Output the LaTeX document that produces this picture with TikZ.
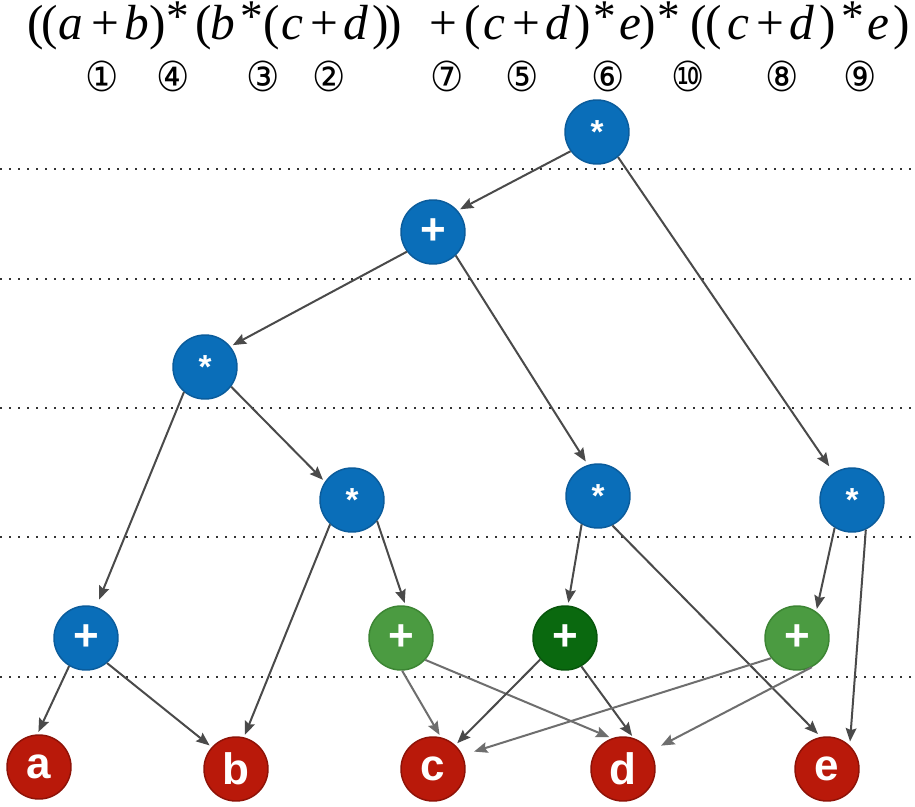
\documentclass[tikz,border=0pt]{standalone}
\usepackage{fontspec}
\setmainfont{Liberation Sans}
\newfontfamily\tms{Liberation Serif}
\newfontfamily\djv{DejaVu Sans}
\usetikzlibrary{arrows.meta}
\definecolor{nblue}{HTML}{0A6EB9}
\definecolor{nblueb}{HTML}{0A5C9C}
\definecolor{ngreen}{HTML}{4B9B41}
\definecolor{ngreenb}{HTML}{3C8533}
\definecolor{dgreen}{HTML}{0A690F}
\definecolor{dgreenb}{HTML}{07550B}
\definecolor{nred}{HTML}{B9190A}
\definecolor{nredb}{HTML}{8E1207}
\definecolor{edgec}{HTML}{4A4A4A}
\definecolor{edgel}{HTML}{6E6E6E}
\begin{document}
\begin{tikzpicture}[x=0.75pt,y=-0.75pt,
  tnode/.style={circle,minimum size=48pt,inner sep=0pt,line width=1.1pt,
    font=\fontsize{33}{33}\selectfont\bfseries,text=white},
  blue/.style={tnode,fill=nblue,draw=nblueb},
  lgreen/.style={tnode,fill=ngreen,draw=ngreenb},
  dkgreen/.style={tnode,fill=dgreen,draw=dgreenb},
  red/.style={tnode,fill=nred,draw=nredb},
  conn/.style={draw=edgec,line width=1.5pt,shorten >=2pt,
    -{Stealth[length=10pt,width=8pt,inset=1.5pt]}},
  connl/.style={conn,draw=edgel},
  dotline/.style={draw=black!80,line width=1.5pt,dash pattern=on 1.5pt off 5.25pt},
  ftok/.style={anchor=base,inner sep=0pt,font=\tms\fontsize{37}{37}\selectfont},
  fitok/.style={ftok,font=\tms\itshape\fontsize{37}{37}\selectfont},
  fast/.style={anchor=base,inner sep=0pt,font=\tms\fontsize{34}{34}\selectfont},
  circnum/.style={inner sep=0pt,font=\djv\fontsize{31}{31}\selectfont}
]
\useasboundingbox (0,0) rectangle (915,807);
\fill[white] (0,0) rectangle (915,807);

% dotted level lines
\foreach \yy in {169,279,408,537,677}
  \draw[dotline] (0,\yy) -- (915,\yy);

% formula
\foreach \xx/\tt [count=\i] in {36/(,50/(,204/(,272/(,473/(,699/(,714/(,
    158/),381/),394/),583/),648/),828/),902/)}
  \node[ftok] (fp\i) at (\xx,39) {\tt};
\foreach \xx [count=\i] in {105,324,443,526,770}
  \node[ftok] (fplus\i) at (\xx,39) {+};
\foreach \xx [count=\i] in {178,252,605,669,853}
  \node[fast] (fast\i) at (\xx,39) {\smash{\raisebox{5.5pt}{*}}};
\foreach \xx/\tt [count=\i] in {71/a,137/b,223/b,292/c,356/d,494/c,558/d,630/e,738/c,802/d,878/e}
  \node[fitok] (fv\i) at (\xx,39) {\tt};

% circled numbers
\foreach \xx/\tt [count=\i] in {102/①,173/④,263/③,329/②,447/⑦,522/⑤,608/⑥,688/⑩,782/⑧,860/⑨}
  \node[circnum] (cn\i) at (\xx,76) {\scalebox{0.9}[1]{\tt}};

% tree nodes
\node[blue] (root) at (597,132) {\fontsize{25}{25}\selectfont *};
\node[blue] (p1) at (433,232) {\raisebox{-3pt}{+}};
\node[blue] (m1) at (205,367) {\fontsize{25}{25}\selectfont *};
\node[blue] (m2) at (352,500) {\fontsize{25}{25}\selectfont *};
\node[blue] (ms) at (598,496) {\fontsize{25}{25}\selectfont *};
\node[blue] (rs) at (852,500) {\fontsize{25}{25}\selectfont *};
\node[blue] (pb) at (86,638) {\raisebox{-3pt}{+}};
\node[lgreen] (g1) at (401,638) {\raisebox{-3pt}{+}};
\node[dkgreen] (g2) at (565,638) {\raisebox{-3pt}{+}};
\node[lgreen] (g3) at (797,638) {\raisebox{-3pt}{+}};
\node[red] (a) at (39,767) {a};
\node[red] (b) at (236,769) {b};
\node[red] (c) at (433,769) {c};
\node[red] (d) at (623,769) {d};
\node[red] (e) at (827,769) {e};

% connectors
\draw[conn] (root.216) -- (p1.41);
\draw[conn,shorten >=6pt] (root.-50) -- (rs.124);
\draw[conn] (p1.217) -- (m1.39);
\draw[conn,shorten >=3pt] (p1.-46) -- (ms.108);
\draw[conn,shorten >=6pt] (m1.-130) -- (pb.72);
\draw[conn] (m1.-37) -- (m2.146);
\draw[conn] (m2.-132) -- (b.76);
\draw[conn] (m2.-40) -- (g1.82);
\draw[conn] (ms.-120) -- (g2.85);
\draw[conn,shorten >=3pt] (ms.-64) -- (e.101);
\draw[conn] (rs.-122) -- (g3.54);
\draw[conn,shorten >=3pt] (rs.-65) -- (e.46);
\draw[conn] (pb.-121) -- (a.93);
\draw[conn] (pb.-50) -- (b.138);
\draw[connl] (g1.-88) -- (c.76);
\draw[connl] (g1.-42) -- (d.110);
\draw[conn] (g2.221) -- (c.47);
\draw[conn] (g2.-60) -- (d.71);
\draw[connl,shorten >=9pt] (g3.218) -- (c.25);
\draw[connl,shorten >=9pt] (g3.-63) -- (d.33);
\end{tikzpicture}
\end{document}
